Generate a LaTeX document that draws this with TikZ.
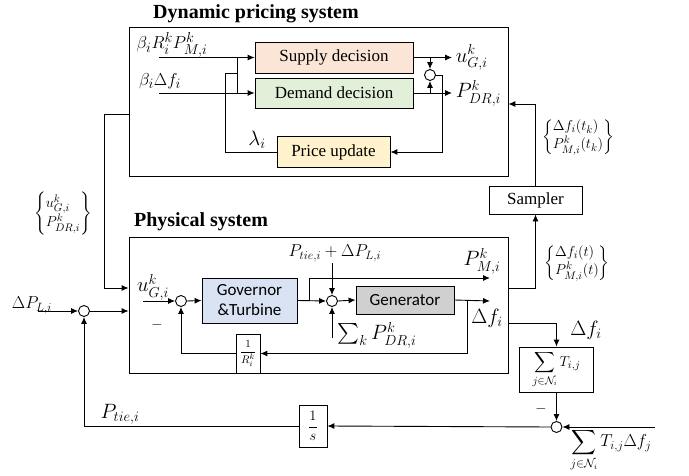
\documentclass[tikz,border=0pt]{standalone}
\usepackage{amsmath}
\usepackage{fontspec}
\setmainfont{Liberation Serif}
\newfontfamily\calfont{Carlito}
\usepackage{xcolor}
\usetikzlibrary{arrows.meta}

\definecolor{supfill}{HTML}{FBE5D6}
\definecolor{demfill}{HTML}{E2F0D9}
\definecolor{prifill}{HTML}{FFF2CC}
\definecolor{govfill}{HTML}{DAE3F3}
\definecolor{genfill}{HTML}{D0D0D0}

\tikzset{
  blk/.style={draw, line width=0.8pt, inner sep=0pt, align=center},
  sumpt/.style={draw, circle, inner sep=0pt, minimum size=11pt, fill=white},
  title/.style={font=\fontsize{20}{22}\selectfont\bfseries},
  sans/.style={font=\fontsize{17}{20}\selectfont\calfont},
  mbig/.style={font=\fontsize{20}{22}\selectfont},
  msmall/.style={font=\fontsize{15}{17}\selectfont},
}

\begin{document}
\begin{tikzpicture}[x=1pt, y=-1pt, line width=0.9pt,
    >={Latex[length=7pt,width=6pt]}, font=\fontsize{17}{19}\selectfont]
  \useasboundingbox (0,0) rectangle (689,476);

  % dynamic pricing system
  \node[blk, minimum width=379pt, minimum height=149pt] (dps) at (318.5,101.5) {};
  \node[title] (dpst) at (256,14) {Dynamic pricing system};
  \node[blk, fill=supfill, minimum width=158pt, minimum height=31pt] (sup) at (334,57.5) {Supply decision};
  \node[blk, fill=demfill, minimum width=158pt, minimum height=30pt] (dem) at (334,93) {Demand decision};
  \node[blk, fill=prifill, minimum width=113pt, minimum height=31pt] (pri) at (333.5,152) {Price update};
  \node[sumpt] (sj) at (430,75) {};
  \node[font=\fontsize{19}{21}\selectfont] (lsup) at (172,45) {$\beta_i R_i^k P_{M,i}^k$};
  \node[font=\fontsize{19}{21}\selectfont] (ldem) at (160,81) {$\beta_i \Delta f_i$};
  \node[mbig] (llam) at (257,140) {$\lambda_i$};
  \coordinate (bsup) at (159,57.5);
  \coordinate (bdem) at (159,93);
  \draw[->] (bsup) -- (sup.west);
  \draw[->] (bdem) -- (dem.west);
  \draw (pri.west) -| (225,73) -- (237,73);
  \draw (237,57.5) -- (237,93);
  \draw[->] (sup.east) -- (452,57.5) coordinate (uout);
  \draw[->] (dem.east) -- (452,93) coordinate (pout);
  \node[mbig, anchor=west] (luout) at (uout) {$u^k_{G,i}$};
  \node[mbig, anchor=west] (lpout) at (pout) {$P^k_{DR,i}$};
  \draw[->] (430,57.5) -- (sj.north);
  \draw[->] (430,93) -- (sj.south);
  \draw[->] (sj.east) -- (442,75) |- (pri.east);

  % sampler
  \node[blk, minimum width=93pt, minimum height=28pt] (smp) at (535.5,200) {Sampler};
  \draw[->] (smp.north) |- (dps.east |- 0,104);
  \node[msmall] (ltk) at (578,137) {$\left\{\begin{array}{@{}l@{}}\Delta f_i(t_k)\\ P^k_{M,i}(t_k)\end{array}\right\}$};

  % physical system
  \node[blk, minimum width=379pt, minimum height=136pt] (ps) at (318.5,305) {};
  \node[title] (pst) at (201,222) {Physical system};
  \node[mbig] (luG) at (153,287) {$u^k_{G,i}$};
  \coordinate (uin) at (143,301);
  \node[sumpt] (s1) at (181,301) {};
  \node[blk, sans, fill=govfill, minimum width=95pt, minimum height=45pt] (gov) at (249.5,300.5) {Governor\\\&Turbine};
  \node[sumpt] (s2) at (332,301) {};
  \node[blk, sans, fill=genfill, minimum width=98pt, minimum height=28pt] (gen) at (405,300) {Generator};
  \node[blk, minimum width=24pt, minimum height=39pt, font=\fontsize{11}{12}\selectfont] (rb) at (248,353.5) {$\dfrac{1}{R_i^k}$};
  \node (ltie) at (335,253) {$P_{tie,i}+\Delta P_{L,i}$};
  \node[mbig] (lsdr) at (377,335) {$\sum_k P^k_{DR,i}$};
  \node[mbig] (lpm) at (482,261) {$P^k_{M,i}$};
  \node[mbig] (ldf) at (487,318) {$\Delta f_i$};
  \node[msmall] (mn1) at (157,325) {$-$};
  \draw[->] (uin) -- (s1.west);
  \draw[->] (s1.east) -- (gov.west);
  \draw[->] (gov.east) -- (s2.west);
  \draw[->] (s2.east) -- (gen.west);
  \draw[->] (309,301) |- (490,278) coordinate (pmout);
  \draw[->] (gen.east) -- (490,301) coordinate (dfout);
  \draw[->] (467,301) |- (rb.east);
  \draw[->] (rb.west) -| (s1.south);
  \draw[->] (s2.north |- 0,263) -- (s2.north);
  \draw[->] (s2.south |- 0,338) -- (s2.south);

  % link between both systems
  \draw[->] (dps.west |- 0,114) -| (104,288) -- (ps.west |- 0,288);
  \node[msmall] (lug) at (63,214) {$\left\{\begin{array}{@{}l@{}}u^k_{G,i}\\ P^k_{DR,i}\end{array}\right\}$};
  \draw[->] (ps.east |- 0,288) -| (smp.south);
  \node[msmall] (lt) at (577,263) {$\left\{\begin{array}{@{}l@{}}\Delta f_i(t)\\ P^k_{M,i}(t)\end{array}\right\}$};

  % tie-line part
  \node (ldpl) at (32,305) {$\Delta P_{L,i}$};
  \coordinate (dplin) at (38,311);
  \node[sumpt] (s3) at (84,311) {};
  \draw[->] (dplin) -- (s3.west);
  \draw[->] (s3.east) -- (ps.west |- s3.east);
  \node[blk, minimum width=28pt, minimum height=42pt, msmall] (integ) at (313,426) {$\dfrac{1}{s}$};
  \draw[->] (integ.west) -| (s3.south);
  \node[mbig] (lptie) at (120,414) {$P_{tie,i}$};
  \node[blk, minimum width=74pt, minimum height=45pt, msmall] (tsum) at (556.5,369.5) {$\displaystyle\sum_{j\in\mathcal{N}_i} T_{i,j}$};
  \draw[->] (ps.east |- 0,323) -| (tsum.north);
  \node[mbig] (ldf2) at (586,330) {$\Delta f_i$};
  \node[sumpt] (s4) at (556.5,427) {};
  \draw[->] (tsum.south) -- (s4.north);
  \node[msmall] (mn2) at (541,409) {$-$};
  \coordinate (tin) at (655,427);
  \draw[->] (tin) -- (s4.east);
  \draw[->] (s4.west) -- (integ.east);
  \node (ltin) at (611,450) {$\displaystyle\sum_{j\in\mathcal{N}_i} T_{i,j}\Delta f_j$};
\end{tikzpicture}
\end{document}
